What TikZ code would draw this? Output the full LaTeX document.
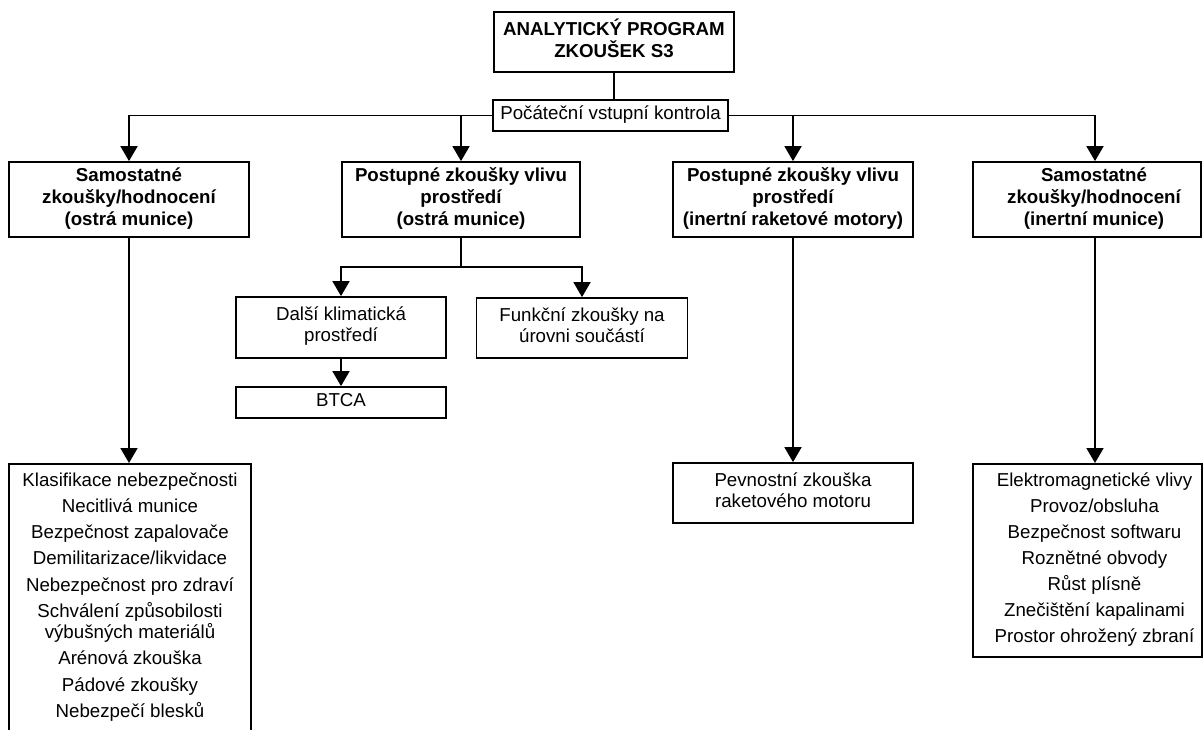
\documentclass[tikz,border=0pt]{standalone}
\usepackage{fontspec}
\setmainfont{Liberation Sans}
\usetikzlibrary{arrows.meta}
\begin{document}
\begin{tikzpicture}[x=1pt,y=-1pt,
  box/.style={draw, line width=1.8pt, inner sep=0pt, align=center,
    font=\fontsize{18.7}{21}\selectfont,
    execute at begin node=\strut, execute at end node=\strut},
  bbox/.style={box, font=\fontsize{18.7}{22}\selectfont\bfseries},
  conn/.style={line width=1.8pt},
  arr/.style={conn, -{Triangle[width=17pt,length=15pt]}}
]
\useasboundingbox (0,0) rectangle (1203,729);
\clip (0,0) rectangle (1203,729);

\node[bbox, minimum width=240, minimum height=60] (top) at (614,42) {ANALYTICKÝ PROGRAM\\ZKOUŠEK S3};
\node[box, minimum width=235, minimum height=31] (pk) at (610.5,115.5) {Počáteční vstupní kontrola};

\node[bbox, minimum width=240, minimum height=75] (b1) at (129,199.5) {Samostatné\\zkoušky/hodnocení\\(ostrá munice)};
\node[bbox, minimum width=238, minimum height=75] (b2) at (461,199.5) {Postupné zkoušky vlivu\\prostředí\\(ostrá munice)};
\node[bbox, minimum width=240, minimum height=75] (b3) at (793,199.5) {Postupné zkoušky vlivu\\prostředí\\(inertní raketové motory)};
\node[bbox, minimum width=228, minimum height=75] (b4) at (1087,199.5) {\hspace*{14pt}Samostatné\\\hspace*{14pt}zkoušky/hodnocení\\\hspace*{14pt}(inertní munice)};

\node[box, minimum width=210, minimum height=61] (dk) at (341,327.5) {Další klimatická\\prostředí};
\node[box, minimum width=210, minimum height=31] (btca) at (341,402.5) {BTCA};
\node[box, minimum width=211, minimum height=60] (fz) at (582,328) {Funkční zkoušky na\\úrovni součástí};

\node[box, minimum width=240, minimum height=60] (pv) at (793,493) {Pevnostní zkouška\\raketového motoru};

\node[box, minimum width=242, inner ysep=8.5pt, anchor=north] (l1) at (130,463) {Klasifikace nebezpečnosti\\[5.3pt]
Necitlivá munice\\[5.3pt]
Bezpečnost zapalovače\\[5.3pt]
Demilitarizace/likvidace\\[5.3pt]
Nebezpečnost pro zdraví\\[5.3pt]
Schválení způsobilosti\\výbušných materiálů\\[5.3pt]
Arénová zkouška\\[5.3pt]
Pádové zkoušky\\[5.3pt]
Nebezpečí blesků};

\node[box, minimum width=229, inner ysep=8.5pt, anchor=north] (r1) at (1087.5,463) {\hspace*{14pt}Elektromagnetické vlivy\\[5pt]
\hspace*{14pt}Provoz/obsluha\\[5pt]
\hspace*{14pt}Bezpečnost softwaru\\[5pt]
\hspace*{14pt}Roznětné obvody\\[5pt]
\hspace*{14pt}Růst plísně\\[5pt]
\hspace*{14pt}Znečištění kapalinami\\[5pt]
\hspace*{14pt}Prostor ohrožený zbraní};

% connectors
\draw[conn] (top.south) -- (top.south |- pk.north);
\draw[arr] (pk.west) -| (b1.north);
\draw[arr] (b2.north |- pk.west) -- (b2.north);
\draw[arr] (b3.north |- pk.east) -- (b3.north);
\draw[arr] (pk.east) -| ([xshift=8pt]b4.north);

\draw[conn] (b2.south) -- ++(0,29) coordinate (j);
\draw[arr] (j) -| (dk.north);
\draw[arr] (j) -| (fz.north);
\draw[arr] (dk.south) -- (btca.north);

\draw[arr] (b1.south) -- (b1.south |- l1.north);
\draw[arr] (b3.south) -- (pv.north);
\draw[arr] ([xshift=8pt]b4.south) -- ([xshift=8pt]b4.south |- r1.north);
\end{tikzpicture}
\end{document}
